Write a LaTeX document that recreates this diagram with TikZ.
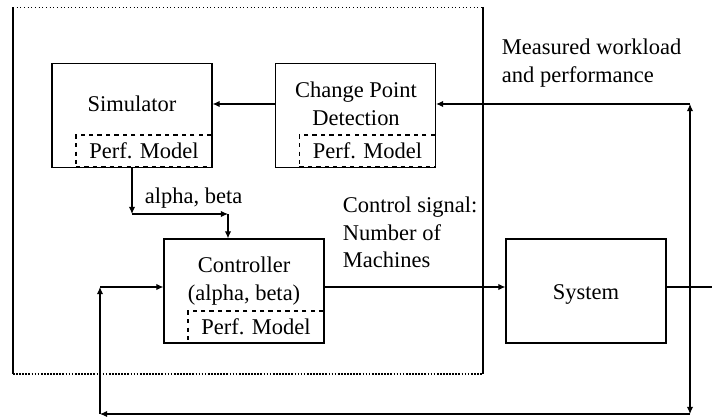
\documentclass[tikz,border=0pt]{standalone}
\usepackage{fontspec}
\setmainfont{Liberation Serif}
\usetikzlibrary{arrows.meta}

\begin{document}
\begin{tikzpicture}[x=0.025cm, y=-0.025cm,
        font=\fontsize{16}{19.5}\selectfont,
        box/.style={draw, line width=0.8pt, minimum width=4cm, minimum height=2.6cm, inner sep=0pt},
        pm/.style={draw, dashed, line width=0.8pt, minimum width=3.4cm, minimum height=0.8cm, inner sep=0pt},
        arr/.style={line width=0.8pt, -{Latex[length=5pt,width=4.5pt]}}]

        \useasboundingbox (0,0) rectangle (712,416);

        %Outer frame
        \draw [line width=0.8pt] (13,7) -- (13,374);
        \draw [line width=0.8pt] (483,7) -- (483,374);
        \draw [dotted, line width=0.6pt] (13,7) -- (483,7);
        \draw [densely dotted, line width=1.2pt] (13,374) -- (483,374);

        %Simulator
        \node [box] (sim) at (132,115.5) {};
        \node (simlabel) at (132,104) {Simulator};
        \node [pm] (simpm) at (144,151) {Perf. Model};

        %Change point detection
        \node [box] (cpd) at (355.5,115.5) {};
        \node [align=center] (cpdlabel) at (356,104) {Change Point\\Detection};
        \node [pm] (cpdpm) at (367.5,151) {Perf. Model};

        %Controller
        \node [box] (ctrl) at (244,291) {};
        \node [align=center] (ctrllabel) at (244,281) {Controller\\(alpha, beta)};
        \node [pm] (ctrlpm) at (256,327) {Perf. Model};

        %System
        \node [box] (sys) at (586,291) {};
        \node (syslabel) at (586,294) {System};

        %Labels
        \node [anchor=west] (ablabel) at (140,198) {alpha, beta};
        \node [anchor=north west, align=left] (ctrlsig) at (338,192) {Control signal:\\Number of\\Machines};
        \node [anchor=north west, align=left] (measured) at (497,34) {Measured workload\\and performance};

        %Corner points
        \coordinate (fbtop) at (690,104);
        \coordinate (fbbot) at (690,414);
        \coordinate (fbleft) at (100,414);
        \coordinate (fbin) at (100,287);
        \coordinate (sysout) at (712,287);
        \coordinate (ab1) at (132,214);
        \coordinate (ab2) at (228,214);

        %Simulator path
        \draw [arr] (cpd.west |- fbtop) -- (sim.east |- fbtop);
        \draw [arr] (sim.south) -- (ab1);
        \draw [arr] (ab1) -- (ab2);
        \draw [arr] (ab2) -- (ctrl.north -| ab2);

        %Control signal
        \draw [arr] (ctrl.east |- fbin) -- (sys.west |- fbin);
        \draw [line width=0.8pt] (sys.east |- fbin) -- (sysout);

        %Feedback
        \draw [arr] (fbtop) -- (cpd.east |- fbtop);
        \draw [line width=0.8pt, {Latex[length=5pt,width=4.5pt]}-{Latex[length=5pt,width=4.5pt]}] (fbtop) -- (fbbot);
        \draw [arr] (fbbot) -- (fbleft);
        \draw [arr] (fbleft) -- (fbin);
        \draw [arr] (fbin) -- (ctrl.west |- fbin);

\end{tikzpicture}
\end{document}
